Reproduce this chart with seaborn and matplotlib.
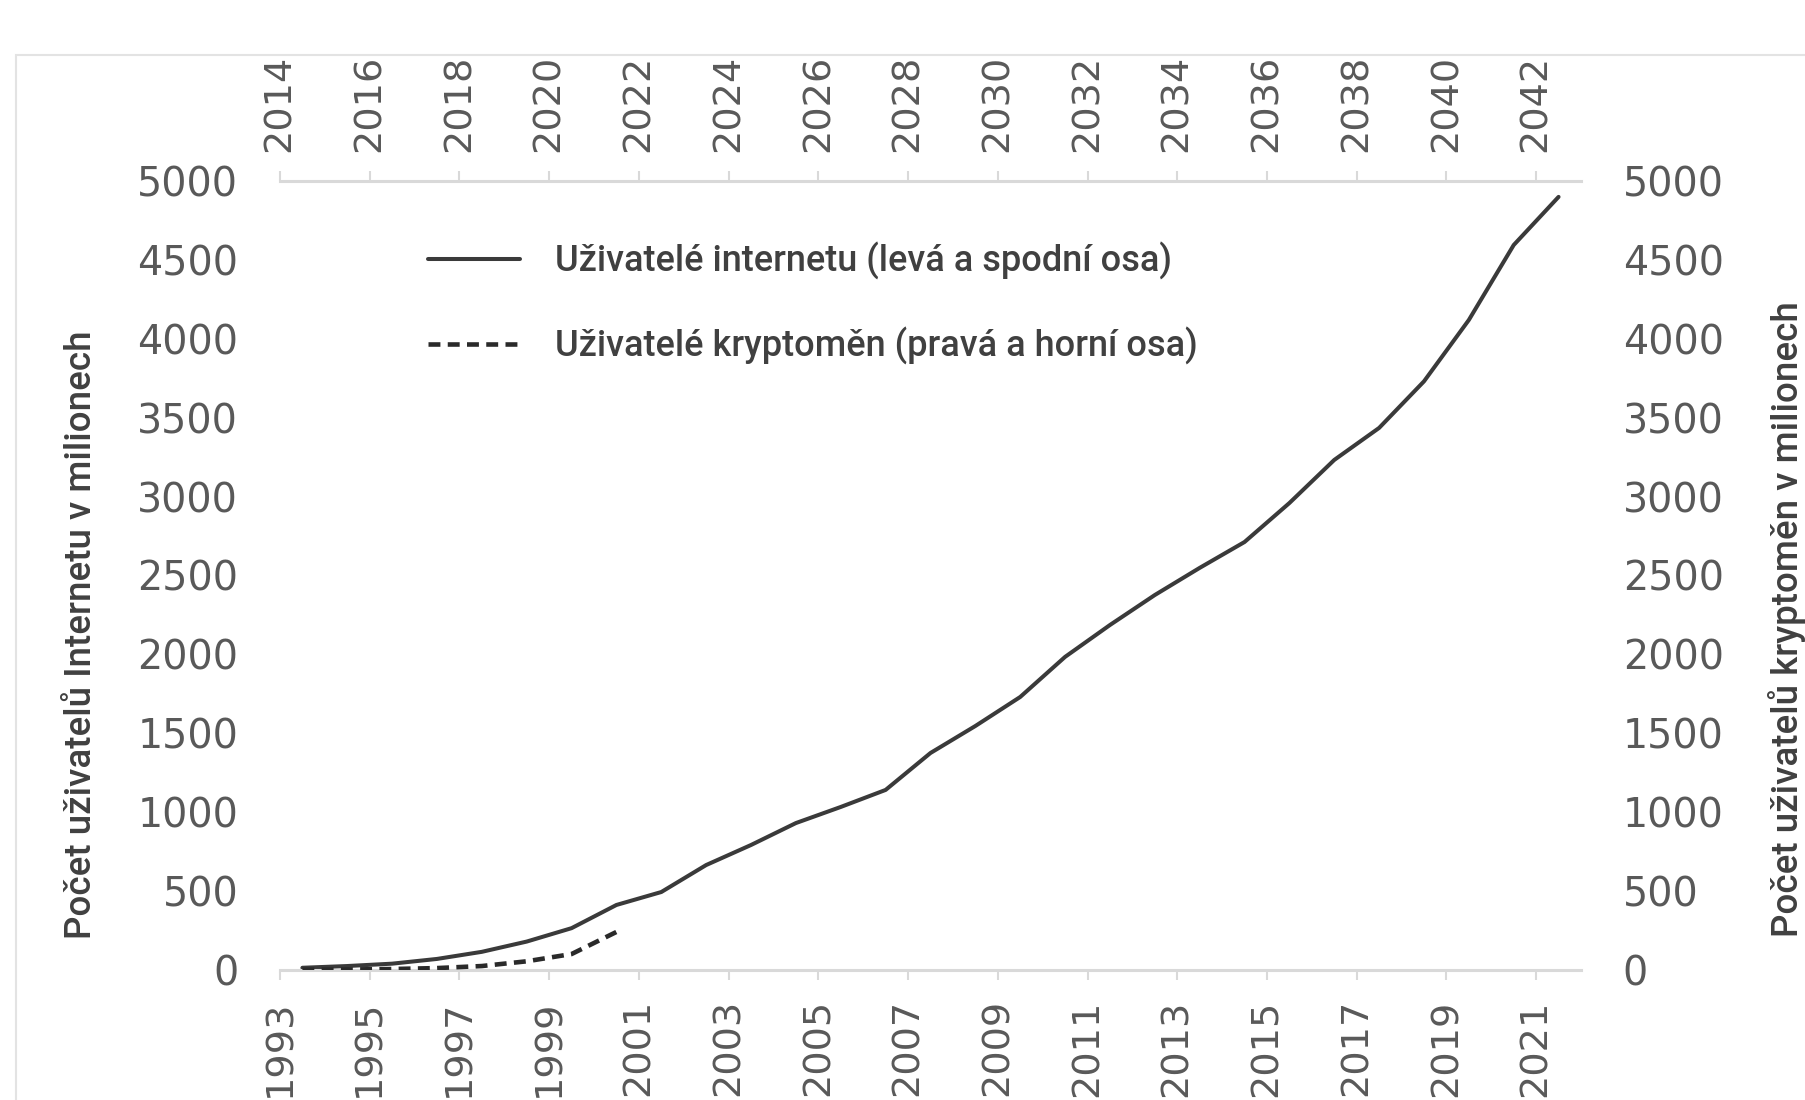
import matplotlib
matplotlib.use("Agg")
import matplotlib.pyplot as plt
from matplotlib.patches import Rectangle
import numpy as np
import pandas as pd
import seaborn as sns

# internet users (left + bottom axes), millions
internet_years = list(range(1993, 2022))
internet_users = [14, 25, 40, 70, 115, 180, 265, 412, 494, 665, 792, 931, 1033,
                  1141, 1375, 1546, 1730, 1984, 2186, 2376, 2548, 2712, 2959,
                  3232, 3435, 3730, 4119, 4594, 4899]

# crypto users (right + top axes), millions
crypto_years = list(range(2014, 2022))
crypto_users = [2, 3, 6, 12, 25, 55, 101, 241]

bottom_ticks = list(range(1993, 2022, 2))
top_ticks = list(range(2014, 2043, 2))
y_ticks = list(range(0, 5001, 500))

label_internet = "Uživatelé internetu (levá a spodní osa)"
label_crypto = "Uživatelé kryptoměn (pravá a horní osa)"
ylabel_left = "Počet uživatelů Internetu v milionech"
ylabel_right = "Počet uživatelů kryptoměn v milionech"

LINE = "#3a3a3a"
TICK_TXT = "#595959"
AXIS_GRAY = "#d9d9d9"
NARROW = ["Roboto", "DejaVu Sans"]

sns.set_style("white")
plt.rcParams["font.family"] = ["DejaVu Sans"]

# values are plotted at mid-year
net_df = pd.DataFrame({"year": np.array(internet_years) + 0.5, "users": internet_users})
cry_df = pd.DataFrame({"year": np.array(crypto_years) + 0.5, "users": crypto_users})

fig = plt.figure(figsize=(18.05, 11), dpi=100)
fig.patch.set_facecolor("white")
pos = [0.1551, 0.1182, 0.7208, 0.7173]
ax = fig.add_axes(pos)
axc = fig.add_axes(pos)
axc.patch.set_visible(False)

sns.lineplot(data=net_df, x="year", y="users", ax=ax, color=LINE, linewidth=2.9,
             label=label_internet, legend=False)
sns.lineplot(data=cry_df, x="year", y="users", ax=axc, color="#2a2a2a", linewidth=3.3,
             label=label_crypto, legend=False)
axc.lines[-1].set_dashes((2.6, 1.6))

ax.set_xlim(1993, 2022)
ax.set_ylim(0, 5000)
axc.set_xlim(2014, 2043)
axc.set_ylim(0, 5000)

ax.set_xticks(bottom_ticks)
ax.set_yticks(y_ticks)
axc.set_xticks(top_ticks)
axc.set_yticks(y_ticks)

axc.xaxis.tick_top()
axc.yaxis.tick_right()
axc.yaxis.set_label_position("right")

for a in (ax, axc):
    for s in a.spines.values():
        s.set_visible(False)
ax.spines["bottom"].set_visible(True)
ax.spines["bottom"].set_color(AXIS_GRAY)
ax.spines["bottom"].set_linewidth(2.2)
axc.spines["top"].set_visible(True)
axc.spines["top"].set_color(AXIS_GRAY)
axc.spines["top"].set_linewidth(2.2)

ax.tick_params(axis="x", length=7, width=1.5, color=AXIS_GRAY, labelsize=27.5,
               labelcolor=TICK_TXT, labelrotation=90, pad=14, bottom=True)
axc.tick_params(axis="x", length=7, width=1.5, color=AXIS_GRAY, labelsize=27.5,
                labelcolor=TICK_TXT, labelrotation=90, pad=14, top=True)
ax.tick_params(axis="y", length=0, labelsize=28.5, labelcolor=TICK_TXT, pad=30)
axc.tick_params(axis="y", length=0, labelsize=28.5, labelcolor=TICK_TXT, pad=30)

ax.set_xlabel("")
axc.set_xlabel("")
ax.set_ylabel(ylabel_left, fontsize=26.5, color="#404040", family=NARROW,
              fontweight="medium")
axc.set_ylabel(ylabel_right, fontsize=26.5, color="#404040", family=NARROW,
               fontweight="medium")
ax.yaxis.set_label_coords(-0.139, 0.425)
axc.yaxis.set_label_coords(1.1437, 0.445)

handles = ax.lines[:1] + axc.lines[-1:]
leg = axc.legend(handles, [label_internet, label_crypto], loc="upper left",
                 bbox_to_anchor=(0.114, 0.923), frameon=False, borderpad=0,
                 borderaxespad=0, handlelength=2.55, handletextpad=0.95,
                 labelspacing=1.3,
                 prop={"family": NARROW, "size": 26, "weight": "medium"})
for t in leg.get_texts():
    t.set_color("#404040")

# light outer frame of the original figure
fig.add_artist(Rectangle((16 / 1805, -0.05), 1.1, 1.0, transform=fig.transFigure,
                         fill=False, edgecolor="#e3e3e3", linewidth=1.5))

fig.savefig("out.png", dpi=100)
